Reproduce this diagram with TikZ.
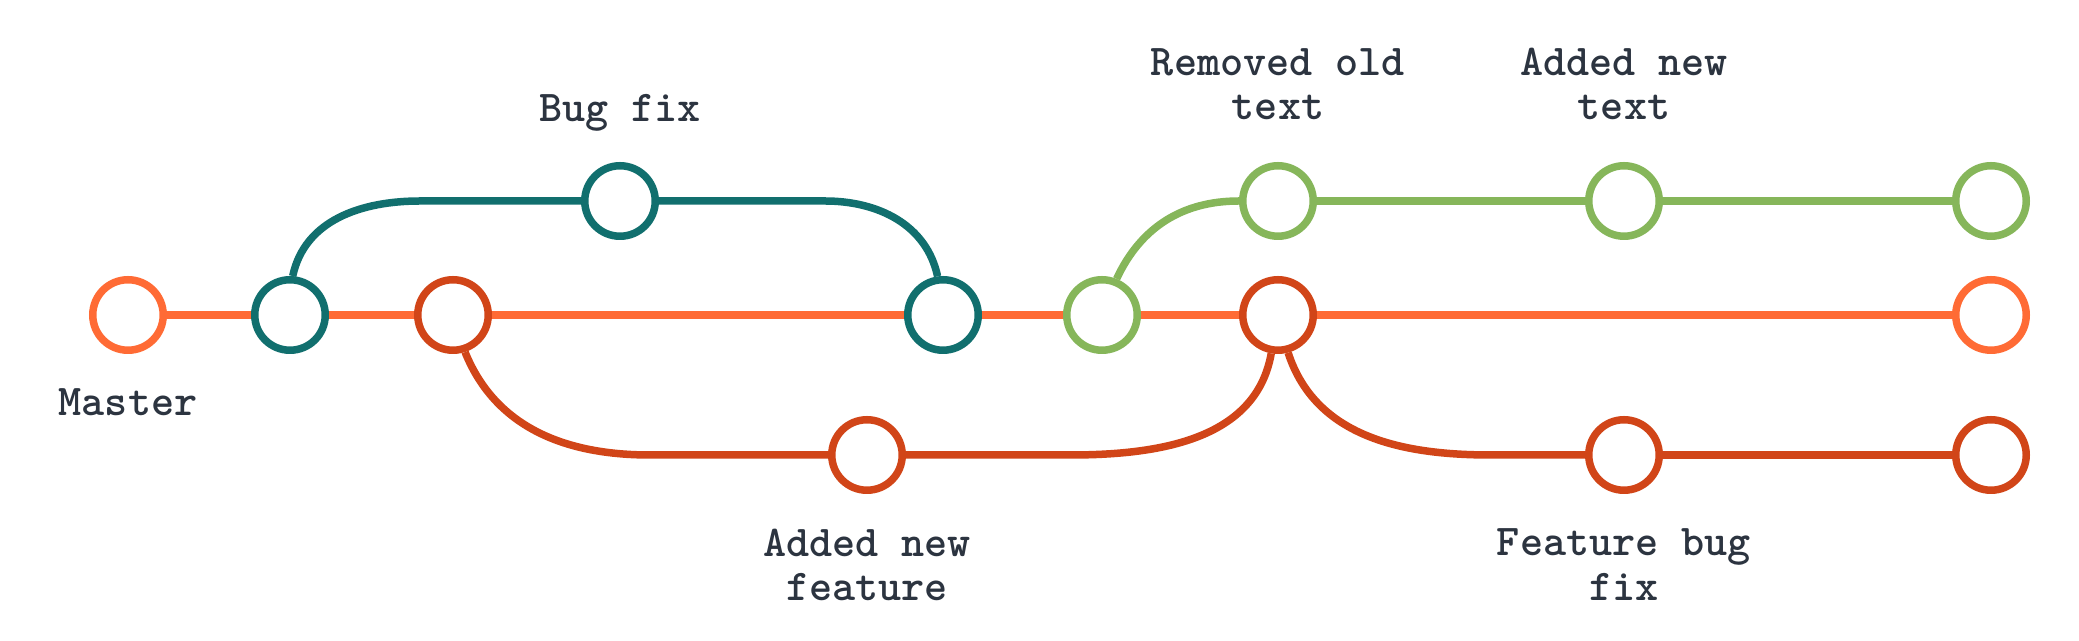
\documentclass[tikz,border=0pt]{standalone}
\usepackage{tikz}
\usetikzlibrary{positioning}
\definecolor{mastercol}{RGB}{255,107,53}
\definecolor{featcol}{RGB}{209,69,24}
\definecolor{fixcol}{RGB}{17,111,110}
\definecolor{textcol}{RGB}{134,182,90}
\definecolor{labelcol}{RGB}{44,52,64}
\tikzset{commit/.style={circle, draw=#1, line width=3.75pt, fill=white, minimum size=35.25pt, inner sep=0pt},
    branch/.style={draw=#1, line width=3.75pt},
    msg/.style={font=\ttfamily\bfseries\fontsize{22}{22.25}\selectfont, text=labelcol, align=center, inner sep=0pt}}

\begin{document}
\begin{tikzpicture}[x=0.5pt, y=0.5pt]
    \useasboundingbox (0,0) rectangle (2079,641);
    % commits
    \node[commit=mastercol] (m0) at (128,326) {};
    \node[commit=fixcol] (m1) at (290,326) {};
    \node[commit=featcol] (f0) at (453,326) {};
    \node[commit=fixcol] (b1) at (620,440) {};
    \node[commit=fixcol] (m2) at (943,326) {};
    \node[commit=textcol] (t0) at (1102,326) {};
    \node[commit=textcol] (t1) at (1278,440) {};
    \node[commit=featcol] (m3) at (1278,326) {};
    \node[commit=featcol] (f1) at (867,186) {};
    \node[commit=textcol] (t2) at (1624,440) {};
    \node[commit=featcol] (f2) at (1624,186) {};
    \node[commit=textcol] (t3) at (1991,440) {};
    \node[commit=mastercol] (m4) at (1991,326) {};
    \node[commit=featcol] (f3) at (1991,186) {};
    \coordinate (b0) at (420,440);
    \coordinate (b2) at (825,440);
    \coordinate (f0a) at (650,186);
    \coordinate (f1a) at (1070,186);
    \coordinate (f2a) at (1491,186);
    % labels
    \node[msg, below=17pt of m0] (lm0) {Master};
    \node[msg, above=15.3pt of b1] (lb1) {Bug fix};
    \node[msg, above=20.75pt of t1] (lt1) {Removed old\\text};
    \node[msg, above=20.75pt of t2] (lt2) {Added new\\text};
    \node[msg, below=17.25pt of f1] (lf1) {Added new\\feature};
    \node[msg, below=17.25pt of f2] (lf2) {Feature bug\\fix};
    % master
    \draw[branch=mastercol] (m0) -- (m1);
    \draw[branch=mastercol] (m1) -- (f0);
    \draw[branch=mastercol] (f0) -- (m2);
    \draw[branch=mastercol] (m2) -- (t0);
    \draw[branch=mastercol] (t0) -- (m3);
    \draw[branch=mastercol] (m3) -- (m4);
    % bug fix
    \draw[branch=fixcol] (m1.86) to[out=78, in=180] (b0) -- (b1);
    \draw[branch=fixcol] (b1) -- (b2) to[out=0, in=102] (m2.98);
    % text
    \draw[branch=textcol] (t0.68) to[out=65, in=180] (t1);
    \draw[branch=textcol] (t1) -- (t2);
    \draw[branch=textcol] (t2) -- (t3);
    % feature
    \draw[branch=featcol] (f0.-72) to[out=-68, in=180] (f0a) -- (f1);
    \draw[branch=featcol] (f1) -- (f1a) to[out=0, in=-100] (m3.-100);
    \draw[branch=featcol] (m3.-75) to[out=-72, in=180] (f2a) -- (f2);
    \draw[branch=featcol] (f2) -- (f3);
\end{tikzpicture}
\end{document}
